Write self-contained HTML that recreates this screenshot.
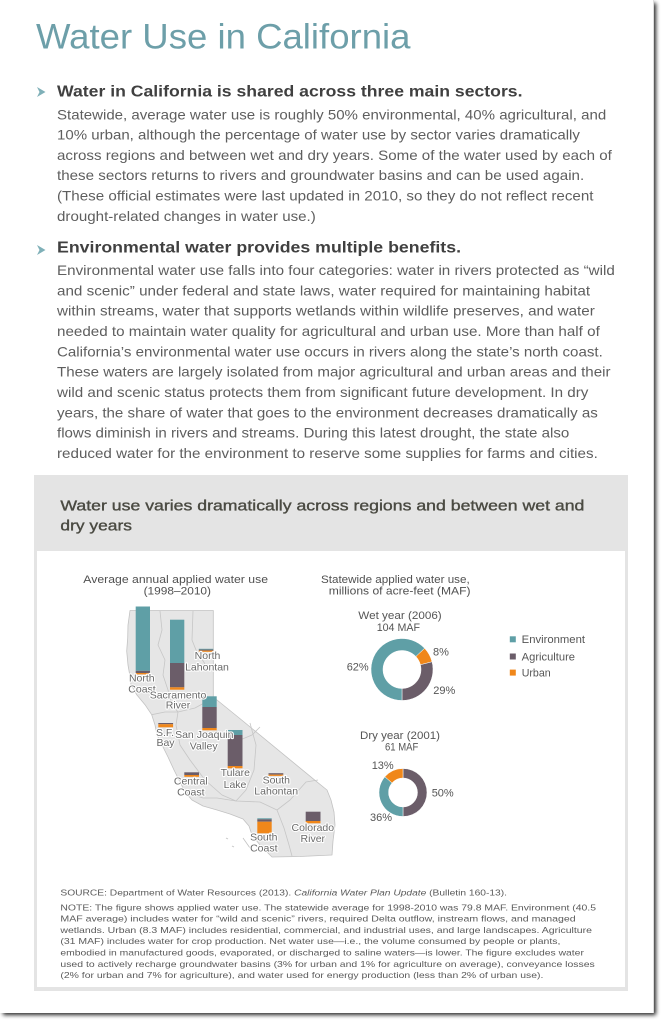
<!DOCTYPE html>
<html><head><meta charset="utf-8"><style>
html,body{margin:0;padding:0;background:#fff;}
svg{display:block;}
text{font-family:"Liberation Sans",Arial,sans-serif;}
.b{fill:#5e5e5e;font-size:14px;}
.h{fill:#404040;font-size:15.5px;font-weight:bold;}
.n{fill:#5a5a5a;font-size:8.4px;}
.s{fill:#505050;font-size:11px;}
.ml{fill:#6a6a6a;font-size:10.5px;stroke:#fff;stroke-width:2.2px;paint-order:stroke;stroke-linejoin:round;text-anchor:middle;}
.dl{fill:#555;font-size:11px;}
</style></head><body>
<svg width="665" height="1024" viewBox="0 0 665 1024" xmlns="http://www.w3.org/2000/svg">
<defs><filter id="sh" x="-5%" y="-5%" width="110%" height="110%"><feGaussianBlur stdDeviation="2"/></filter></defs>
<rect x="0" y="0" width="665" height="1024" fill="#fff"/>
<rect x="3" y="3" width="653" height="1012" fill="#000" opacity="0.85" filter="url(#sh)"/>
<rect x="0" y="0" width="654" height="1013" fill="#fff"/>
<line x1="653.5" y1="0" x2="653.5" y2="1013" stroke="#ddd" stroke-width="1"/>

<!-- Title -->
<text x="36" y="48.5" font-size="35" fill="#6d9fa9" textLength="374.5" lengthAdjust="spacingAndGlyphs">Water Use in California</text>

<!-- Section 1 -->
<polygon points="37,87 45.5,92 37,97 39.5,92" fill="#7fb0b8"/>
<text class="h" x="57" y="96.7" textLength="465.5" lengthAdjust="spacingAndGlyphs">Water in California is shared across three main sectors.</text>
<text class="b" x="57" y="119.3" textLength="549.2" lengthAdjust="spacingAndGlyphs">Statewide, average water use is roughly 50% environmental, 40% agricultural, and</text>
<text class="b" x="57" y="139.6" textLength="522.9" lengthAdjust="spacingAndGlyphs">10% urban, although the percentage of water use by sector varies dramatically</text>
<text class="b" x="57" y="159.9" textLength="554.8" lengthAdjust="spacingAndGlyphs">across regions and between wet and dry years. Some of the water used by each of</text>
<text class="b" x="57" y="180.2" textLength="527.2" lengthAdjust="spacingAndGlyphs">these sectors returns to rivers and groundwater basins and can be used again.</text>
<text class="b" x="57" y="200.5" textLength="536.5" lengthAdjust="spacingAndGlyphs">(These official estimates were last updated in 2010, so they do not reflect recent</text>
<text class="b" x="57" y="220.8" textLength="258.8" lengthAdjust="spacingAndGlyphs">drought-related changes in water use.)</text>

<!-- Section 2 -->
<polygon points="37,245 45.5,250 37,255 39.5,250" fill="#7fb0b8"/>
<text class="h" x="57" y="252.7" textLength="404" lengthAdjust="spacingAndGlyphs">Environmental water provides multiple benefits.</text>
<text class="b" x="57" y="275" textLength="557.8" lengthAdjust="spacingAndGlyphs">Environmental water use falls into four categories: water in rivers protected as “wild</text>
<text class="b" x="57" y="295.3" textLength="533.1" lengthAdjust="spacingAndGlyphs">and scenic” under federal and state laws, water required for maintaining habitat</text>
<text class="b" x="57" y="315.7" textLength="537.8" lengthAdjust="spacingAndGlyphs">within streams, water that supports wetlands within wildlife preserves, and water</text>
<text class="b" x="57" y="336" textLength="542.8" lengthAdjust="spacingAndGlyphs">needed to maintain water quality for agricultural and urban use. More than half of</text>
<text class="b" x="57" y="356.3" textLength="545.8" lengthAdjust="spacingAndGlyphs">California’s environmental water use occurs in rivers along the state’s north coast.</text>
<text class="b" x="57" y="376.7" textLength="553.5" lengthAdjust="spacingAndGlyphs">These waters are largely isolated from major agricultural and urban areas and their</text>
<text class="b" x="57" y="397" textLength="531.4" lengthAdjust="spacingAndGlyphs">wild and scenic status protects them from significant future development. In dry</text>
<text class="b" x="57" y="417.3" textLength="540.8" lengthAdjust="spacingAndGlyphs">years, the share of water that goes to the environment decreases dramatically as</text>
<text class="b" x="57" y="437.7" textLength="512.3" lengthAdjust="spacingAndGlyphs">flows diminish in rivers and streams. During this latest drought, the state also</text>
<text class="b" x="57" y="458" textLength="540.8" lengthAdjust="spacingAndGlyphs">reduced water for the environment to reserve some supplies for farms and cities.</text>

<!-- Chart box -->
<rect x="34" y="475" width="594" height="516" fill="#e4e4e4"/>
<rect x="37" y="551" width="588" height="436" fill="#fff"/>
<text x="60.4" y="510.7" font-size="14.5" fill="#4a4a42" stroke="#4a4a42" stroke-width="0.35" textLength="524" lengthAdjust="spacingAndGlyphs">Water use varies dramatically across regions and between wet and</text>
<text x="60.4" y="530.7" font-size="14.5" fill="#4a4a42" stroke="#4a4a42" stroke-width="0.35" textLength="71.6" lengthAdjust="spacingAndGlyphs">dry years</text>

<text class="s" x="83.3" y="583" textLength="184.7" lengthAdjust="spacingAndGlyphs">Average annual applied water use</text>
<text class="s" x="143.6" y="594.3" textLength="67.4" lengthAdjust="spacingAndGlyphs">(1998–2010)</text>
<text class="s" x="321" y="583" textLength="148.7" lengthAdjust="spacingAndGlyphs">Statewide applied water use,</text>
<text class="s" x="328.8" y="594.5" textLength="141.7" lengthAdjust="spacingAndGlyphs">millions of acre-feet (MAF)</text>

<!-- Map -->
<polygon points="130,610.5 213.3,610.5 213.3,697 238,717 316.7,781.7 327,790 331,800 334,812 335,825 333,841 332,855 300,856.5 272,857 268,853 260,845 252,835 249,826 243,819 230,814 217,810 203,806 192,800 185,792 180,782 174,770 168,757 162,745 157,735 155,725 151.7,714.7 145,704.7 136.7,694.7 131,684.7 129.7,674.7 128,665 126.7,651 127.7,638 128,625" fill="#e6e6e6" stroke="#c2c2c2" stroke-width="0.8" stroke-linejoin="round"/>
<g fill="none" stroke="#c6c6c6" stroke-width="0.8" stroke-linejoin="round">
<polyline points="160,611 162,630 158,645 165,660 163,675 168,690 172,705 178,712"/>
<polyline points="193,611 192,640 196,650 205,664 213.3,672"/>
<polyline points="151.7,714.7 165,712 178,712 195,708 213.3,698"/>
<polyline points="178,712 176,725 180,745 190,760 205,780 222,795 236,801"/>
<polyline points="216,731 225,738 240,740 252,735 260,727"/>
<polyline points="250,723 256,745 254,770 246,790 236,801"/>
<polyline points="185,792 203,798 217,798 236,801 260,802 277,810 290,800 306,782 318,780"/>
<polyline points="277,810 284,828 289,845 292,856"/>
</g>
<g stroke="#c2c2c2" stroke-width="0.8">
<line x1="243" y1="838" x2="250" y2="848"/>
<line x1="226" y1="838" x2="228" y2="839"/>
<line x1="232" y1="846" x2="234" y2="847"/>
</g>

<!-- Bars -->
<g>
<!-- North Coast -->
<rect x="135.7" y="606.5" width="14.3" height="64.3" fill="#5f9fa6"/>
<rect x="135.7" y="670.8" width="14.3" height="2.2" fill="#6b5d69"/>
<rect x="135.7" y="673" width="14.3" height="1.4" fill="#f0871a"/>
<!-- Sacramento -->
<rect x="170" y="619.7" width="14.3" height="43.3" fill="#5f9fa6"/>
<rect x="170" y="663" width="14.3" height="24.3" fill="#6b5d69"/>
<rect x="170" y="687.3" width="14.3" height="2.4" fill="#f0871a"/>
<!-- North Lahontan -->
<rect x="198.8" y="648.8" width="14.5" height="0.8" fill="#5f9fa6"/>
<rect x="198.8" y="649.6" width="14.5" height="1" fill="#6b5d69"/>
<rect x="198.8" y="650.6" width="14.5" height="1.2" fill="#f0871a"/>
<!-- San Joaquin -->
<rect x="202.3" y="696.3" width="14.4" height="10.7" fill="#5f9fa6"/>
<rect x="202.3" y="707" width="14.4" height="21" fill="#6b5d69"/>
<rect x="202.3" y="728" width="14.4" height="2.3" fill="#f0871a"/>
<!-- Tulare -->
<rect x="227.7" y="730" width="14.8" height="5" fill="#5f9fa6"/>
<rect x="227.7" y="735" width="14.8" height="31" fill="#6b5d69"/>
<rect x="227.7" y="766" width="14.8" height="2.3" fill="#f0871a"/>
<!-- SF Bay -->
<rect x="158.3" y="723" width="14.8" height="1.2" fill="#6b5d69"/>
<rect x="158.3" y="724.2" width="14.8" height="3.1" fill="#f0871a"/>
<!-- Central Coast -->
<rect x="184.3" y="772.3" width="14.7" height="2.7" fill="#6b5d69"/>
<rect x="184.3" y="775" width="14.7" height="1.8" fill="#f0871a"/>
<!-- South Lahontan -->
<rect x="268.5" y="773.2" width="14.8" height="1.4" fill="#6b5d69"/>
<rect x="268.5" y="774.6" width="14.8" height="1.3" fill="#f0871a"/>
<!-- South Coast -->
<rect x="257.3" y="818.3" width="14.4" height="1" fill="#5f9fa6"/>
<rect x="257.3" y="819.3" width="14.4" height="2.4" fill="#6b5d69"/>
<rect x="257.3" y="821.7" width="14.4" height="11.6" fill="#f0871a"/>
<!-- Colorado River -->
<rect x="305.7" y="811.7" width="14.8" height="9.3" fill="#6b5d69"/>
<rect x="305.7" y="821" width="14.8" height="2.3" fill="#f0871a"/>
</g>

<!-- Map labels -->
<text class="ml" x="141.8" y="681.7">North</text>
<text class="ml" x="142" y="692.5">Coast</text>
<text class="ml" x="178" y="698.5">Sacramento</text>
<text class="ml" x="178" y="708.5">River</text>
<text class="ml" x="207.5" y="659">North</text>
<text class="ml" x="207" y="670.7">Lahontan</text>
<text class="ml" x="165" y="736">S.F.</text>
<text class="ml" x="165.5" y="746">Bay</text>
<text class="ml" x="204.3" y="738">San Joaquin</text>
<text class="ml" x="203.7" y="749.5">Valley</text>
<text class="ml" x="235.3" y="776">Tulare</text>
<text class="ml" x="235" y="788">Lake</text>
<text class="ml" x="190.8" y="784.5">Central</text>
<text class="ml" x="190.8" y="795.5">Coast</text>
<text class="ml" x="276.3" y="783.7">South</text>
<text class="ml" x="276.2" y="794.7">Lahontan</text>
<text class="ml" x="263.8" y="840.5">South</text>
<text class="ml" x="263.8" y="851.5">Coast</text>
<text class="ml" x="312.8" y="831">Colorado</text>
<text class="ml" x="312.8" y="842">River</text>

<!-- Wet donut -->
<text class="dl" x="358.3" y="619" textLength="83.4" lengthAdjust="spacingAndGlyphs">Wet year (2006)</text>
<text class="dl" x="376.7" y="630.8" textLength="43.3" lengthAdjust="spacingAndGlyphs">104 MAF</text>
<g stroke="#fff" stroke-width="0.5">
<path d="M 424.60 648.28 A 31 31 0 0 1 432.03 661.79 L 420.40 664.77 A 19 19 0 0 0 415.85 656.49 Z" fill="#f0871a"/>
<path d="M 432.03 661.79 A 31 31 0 0 1 402 700.5 L 402 688.5 A 19 19 0 0 0 420.40 664.77 Z" fill="#6b5d69"/>
<path d="M 402 700.5 A 31 31 0 1 1 424.60 648.28 L 415.85 656.49 A 19 19 0 1 0 402 688.5 Z" fill="#5f9fa6"/>
</g>
<text class="dl" x="433" y="655.5">8%</text>
<text class="dl" x="346.7" y="670.5">62%</text>
<text class="dl" x="433.3" y="694">29%</text>

<!-- Dry donut -->
<text class="dl" x="360" y="739" textLength="80" lengthAdjust="spacingAndGlyphs">Dry year (2001)</text>
<text class="dl" x="385" y="750.5" textLength="33.3" lengthAdjust="spacingAndGlyphs">61 MAF</text>
<g stroke="#fff" stroke-width="0.5">
<path d="M 403 768.5 A 24 24 0 0 1 403 816.5 L 403 807 A 14.5 14.5 0 0 0 403 778 Z" fill="#6b5d69"/>
<path d="M 403 816.5 A 24 24 0 0 1 384.89 776.75 L 392.06 782.99 A 14.5 14.5 0 0 0 403 807 Z" fill="#5f9fa6"/>
<path d="M 384.89 776.75 A 24 24 0 0 1 403 768.5 L 403 778 A 14.5 14.5 0 0 0 392.06 782.99 Z" fill="#f0871a"/>
</g>
<text class="dl" x="371.7" y="769">13%</text>
<text class="dl" x="431.7" y="796.5">50%</text>
<text class="dl" x="370" y="821">36%</text>

<!-- Legend -->
<rect x="509.8" y="636.3" width="6" height="6" fill="#5f9fa6"/>
<rect x="509.8" y="653.5" width="6" height="6" fill="#6b5d69"/>
<rect x="509.8" y="669.6" width="6" height="6" fill="#f0871a"/>
<text class="dl" x="521.7" y="643.2" textLength="63.3" lengthAdjust="spacingAndGlyphs">Environment</text>
<text class="dl" x="521.7" y="660.4" textLength="53.3" lengthAdjust="spacingAndGlyphs">Agriculture</text>
<text class="dl" x="521.7" y="676.4" textLength="29" lengthAdjust="spacingAndGlyphs">Urban</text>

<!-- Notes -->
<text class="n" x="60.4" y="895.7" textLength="446.6" lengthAdjust="spacingAndGlyphs">SOURCE: Department of Water Resources (2013). <tspan font-style="italic">California Water Plan Update</tspan> (Bulletin 160-13).</text>
<text class="n" x="60.4" y="910.3" textLength="535.6" lengthAdjust="spacingAndGlyphs">NOTE: The figure shows applied water use. The statewide average for 1998-2010 was 79.8 MAF. Environment (40.5</text>
<text class="n" x="60.4" y="921.6" textLength="515.3" lengthAdjust="spacingAndGlyphs">MAF average) includes water for “wild and scenic” rivers, required Delta outflow, instream flows, and managed</text>
<text class="n" x="60.4" y="932.9" textLength="531.6" lengthAdjust="spacingAndGlyphs">wetlands. Urban (8.3 MAF) includes residential, commercial, and industrial uses, and large landscapes. Agriculture</text>
<text class="n" x="60.4" y="944.2" textLength="500" lengthAdjust="spacingAndGlyphs">(31 MAF) includes water for crop production. Net water use—i.e., the volume consumed by people or plants,</text>
<text class="n" x="60.4" y="955.5" textLength="523.5" lengthAdjust="spacingAndGlyphs">embodied in manufactured goods, evaporated, or discharged to saline waters—is lower. The figure excludes water</text>
<text class="n" x="60.4" y="966.8" textLength="534.4" lengthAdjust="spacingAndGlyphs">used to actively recharge groundwater basins (3% for urban and 1% for agriculture on average), conveyance losses</text>
<text class="n" x="60.4" y="978.1" textLength="483" lengthAdjust="spacingAndGlyphs">(2% for urban and 7% for agriculture), and water used for energy production (less than 2% of urban use).</text>
</svg>
</body></html>
